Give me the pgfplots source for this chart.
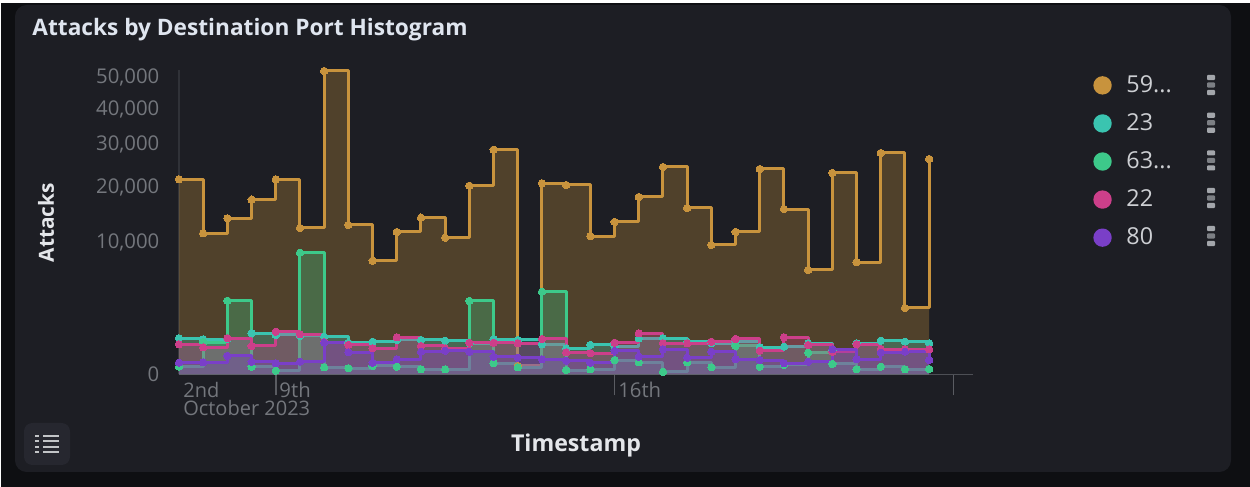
\documentclass[border=0pt]{standalone}
\usepackage{fontspec}
\setmainfont{Open Sans}
\usepackage{pgfplots}
\usepackage{pgfplotstable}
\pgfplotsset{compat=1.18}

\definecolor{outer}{HTML}{0E0F12}
\definecolor{panel}{HTML}{1D1E24}
\definecolor{btn}{HTML}{26272F}
\definecolor{ctitle}{HTML}{DFE5EF}
\definecolor{clabel}{HTML}{E4E6EA}
\definecolor{ctick}{HTML}{74777D}
\definecolor{corange}{HTML}{C8933D}
\definecolor{cteal}{HTML}{3AC4B0}
\definecolor{cgreen}{HTML}{3DC98A}
\definecolor{cpink}{HTML}{CC3F8A}
\definecolor{cpurple}{HTML}{7A3FC8}

% attacks per 12 h bin, x is the day of October 2023
\pgfplotstableread{
x     orange teal green pink purple
7.0   21440  738  34    513  78
7.5   11220  697  594   416  84
8.0   13730  721  3065  738  193
8.5   17200  955  34    457  92
9.0   21440  878  8     1031 71
9.5   12080  834  8350  910  92
10.0  51840  804  29    594  569
10.5  12580  569  22    490  277
11.0  7290   605  41    386  78
11.5  11430  670  34    779  130
12.0  13840  670  15    457  293
12.5  10530  643  15    386  319
13.0  20060  558  3040  569  293
13.5  28440  697  71    569  178
14.0  41     670  29    548  159
14.5  20570  513  3858  709  130
15.0  20210  386  11    277  107
15.5  10790  490  15    253  78
16.0  13090  435  118   569  319
16.5  17730  738  84    955  178
17.0  24230  738  4     548  357
17.5  15600  605  84    548  159
18.0  9440   548  29    605  293
18.5  11430  605  457   709  135
19.0  23760  416  34    319  118
19.5  15410  435  51    779  71
20.0  6150   548  267   490  92
20.5  22850  338  62    293  357
21.0  7120   548  15    513  130
21.5  27610  643  34    357  267
22.0  2490   605  15    357  293
22.5  26130  548  17    357  118
}\attacks

% one series: the area, then the line with its marks
\newcommand{\series}[3]{%
  \addplot[forget plot,draw=none,mark=none,fill=#1,fill opacity=0.3] table[x=x,y=#2]{\attacks} \closedcycle;
  \addplot[#1,mark options={fill=#1,draw=#1,line width=0pt}] table[x=x,y=#2]{\attacks};
  \addlegendentry{#3}
}

\begin{document}
\begin{tikzpicture}
% page and panel, in pixels of the reference, from the top left
\begin{scope}[x=0.6pt,y=-0.6pt,shift={(0pt,292.2pt)}]
  \fill[white] (0,0) rectangle (1250,487);
  \fill[outer] (1.5,3.5) rectangle (1250,487);
  \fill[panel,rounded corners=7pt] (15,5) rectangle (1231,472);
  \fill[btn,rounded corners=5pt] (24,423) rectangle (70,465);
  \foreach \yy in {436,441.3,446.7,451.7}{
    \fill[clabel!85!black] (35,\yy-0.9) rectangle (39,\yy+0.9);
    \fill[clabel!85!black] (43,\yy-0.9) rectangle (59,\yy+0.9);
  }
  \foreach \yy in {85,122.7,160.4,198,236}{
    \foreach \dd/\cc in {-7.5/A3A6AB,0/7C7F84,7.5/A3A6AB}{
      \definecolor{cmenu}{HTML}{\cc}
      \fill[cmenu,rounded corners=0.6pt] (1207,\yy+\dd-2.6) rectangle (1215,\yy+\dd+2.6);
    }
  }
  \node[anchor=west,inner sep=0pt,text=ctick,font=\fontsize{12}{13}\selectfont] at (183,390) {2nd};
  \node[anchor=west,inner sep=0pt,text=ctick,font=\fontsize{12}{13}\selectfont] at (183,408.5) {October 2023};
\end{scope}
\path[use as bounding box] (0,0) rectangle (750pt,292.2pt);

\begin{axis}[
  at={(107.4pt,67.5pt)}, anchor=south west,
  scale only axis, width=476.4pt, height=182.4pt,
  xmin=7, xmax=23.405, ymin=0, ymax=52000,
  y coord trafo/.code={\begingroup\pgfkeys{/pgf/fpu,/pgf/fpu/output format=fixed}\pgfmathparse{sqrt(#1)}\pgfmathsmuggle\pgfmathresult\endgroup},
  axis lines=left, axis line style={-},
  x axis line style={draw=ctick!55!panel,line width=0.9pt},
  y axis line style={draw=ctick!22!panel,line width=0.9pt},
  clip=false,
  xtick={9,16,23}, xticklabels={9th,16th,},
  ytick={0,10000,20000,30000,40000,50000},
  yticklabels={0,{10,000},{20,000},{30,000},{40,000},{50,000}},
  tick align=outside, major tick length=12.6pt,
  xtick style={draw=ctick!70!panel,line width=0.9pt},
  ytick style={draw=none},
  tick label style={text=ctick,font=\fontsize{12.2}{13}\selectfont},
  xticklabel style={anchor=north west,inner sep=0pt,xshift=2pt,yshift=8pt},
  yticklabel style={anchor=east,inner sep=0pt,xshift=1pt,text height=8.8pt,text depth=0pt},
  title={\textbf{Attacks by Destination Port Histogram}},
  title style={at={(axis description cs:-0.185,1.102)},anchor=west,inner sep=0pt,text=ctitle,font=\fontsize{13.6}{15}\selectfont},
  xlabel={\textbf{Timestamp}},
  xlabel style={at={(axis description cs:0.5,-0.234)},anchor=center,inner sep=0pt,text=clabel,font=\fontsize{13.9}{16}\selectfont},
  ylabel={\textbf{Attacks}},
  ylabel style={at={(axis description cs:-0.1675,0.499)},anchor=center,rotate=0,inner sep=0pt,text=clabel,font=\fontsize{12.5}{14}\selectfont},
  legend style={at={(1.1512,0.995)},anchor=north west,draw=none,fill=none,
    text=clabel!90!black,font=\fontsize{14}{16}\selectfont,
    row sep=7.2pt,inner sep=0pt,
    /tikz/every even column/.append style={column sep=6pt}},
  legend cell align=left,
  legend image code/.code={\fill[#1] (0.15cm,0) circle (4.6pt);\path (15.7pt,0);},
  every axis plot/.append style={const plot,line width=1.8pt,mark=*,mark size=2.2pt,line join=round},
]
\series{corange}{orange}{59...}
\series{cteal}{teal}{23}
\series{cgreen}{green}{63...}
\series{cpink}{pink}{22}
\series{cpurple}{purple}{80}
\end{axis}
\end{tikzpicture}
\end{document}
